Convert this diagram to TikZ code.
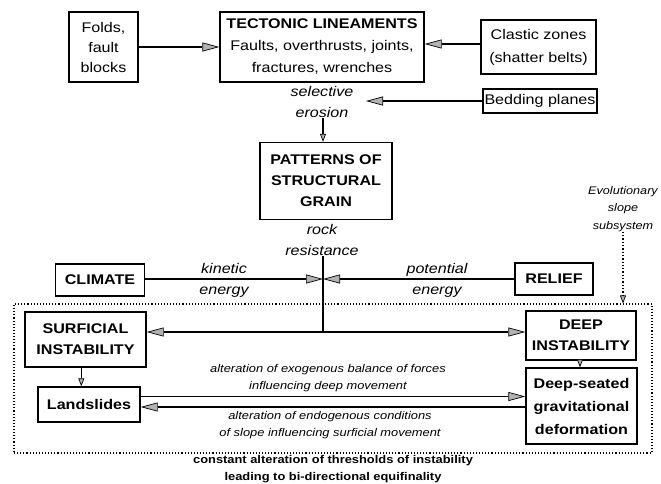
\documentclass[tikz,border=0pt]{standalone}
\usepackage{fontspec}
\setmainfont{Liberation Sans}[FakeStretch=1.15]
\usetikzlibrary{arrows.meta}
\tikzset{
  box/.style={draw, line width=1.4pt, align=center, inner sep=0pt, font=\fontsize{14}{20}\selectfont},
  bbox/.style={box, font=\fontsize{14}{21}\selectfont\bfseries},
  lbl/.style={align=center, inner sep=0pt, font=\fontsize{14}{21}\selectfont\itshape},
  slbl/.style={align=center, inner sep=0pt, font=\fontsize{11.2}{17}\selectfont\itshape},
  garr/.style={line width=1.3pt, -{Triangle[length=17pt,width=9pt,fill=gray!60,line width=0.7pt]}},
  sarr/.style={line width=1.3pt, -{Triangle[length=8pt,width=6pt,fill=gray!60,line width=0.7pt]}},
  plain/.style={line width=1.3pt}
}
\begin{document}
\begin{tikzpicture}[x=1pt,y=-1pt]
\useasboundingbox (0,0) rectangle (661,483);
% top row
\node[box, minimum width=69pt, minimum height=70pt] (folds) at (103.5,47) {Folds,\\fault\\blocks};
\node[box, minimum width=204pt, minimum height=70pt, font=\fontsize{14}{22}\selectfont] (tect) at (322,47) {\textbf{TECTONIC LINEAMENTS}\\Faults, overthrusts, joints,\\fractures, wrenches};
\node[box, minimum width=115pt, minimum height=54pt, font=\fontsize{14}{23}\selectfont] (clast) at (538.5,47) {Clastic zones\\(shatter belts)};
\node[box, minimum width=114pt, minimum height=24pt] (bed) at (540,101) {Bedding planes};
\node[lbl] (sel) at (322,102) {selective\\erosion};
\coordinate (bedtip) at (366,101);
\node[bbox, minimum width=132pt, minimum height=77pt] (pat) at (326,181) {PATTERNS OF\\STRUCTURAL\\GRAIN};
\node[lbl] (rock) at (322,240) {rock\\resistance};
% climate / relief
\node[bbox, minimum width=89pt, minimum height=32pt] (clim) at (100,280) {CLIMATE};
\node[bbox, minimum width=78pt, minimum height=32pt] (rel) at (554,279) {RELIEF};
\node[lbl] (kin) at (224,280) {kinetic\\energy};
\node[lbl] (pot) at (437,280) {potential\\energy};
\coordinate (jn) at (323,279);
\coordinate (jb) at (323,332);
% subsystem
\node[draw, dotted, line width=1.1pt, minimum width=638pt, minimum height=149pt, inner sep=0pt] (sub) at (333,378.5) {};
\node[slbl, font=\fontsize{11}{17.5}\selectfont\itshape] (evo) at (623,209) {Evolutionary\\slope\\subsystem};
\node[bbox, minimum width=121pt, minimum height=55pt] (surf) at (85.5,339.5) {SURFICIAL\\INSTABILITY};
\node[bbox, minimum width=110pt, minimum height=49pt] (deep) at (581,335.5) {DEEP\\INSTABILITY};
\node[bbox, minimum width=102pt, minimum height=35pt] (land) at (89,404.5) {Landslides};
\node[bbox, minimum width=111pt, minimum height=76pt, font=\fontsize{14}{23}\selectfont\bfseries] (ds) at (581.5,406) {Deep-seated\\gravitational\\deformation};
\node[slbl] (exo) at (328,378.5) {alteration of exogenous balance of forces\\influencing deep movement};
\node[slbl] (endo) at (330,425.5) {alteration of endogenous conditions\\of slope influencing surficial movement};
\node[align=center, inner sep=0pt, font=\fontsize{11.2}{17}\selectfont\bfseries] (foot) at (333,469) {constant alteration of thresholds of instability\\leading to bi-directional equifinality};
% connectors
\draw[garr] (folds.east) -- (tect.west);
\draw[garr] ([yshift=3pt]clast.west) -- ([yshift=3pt]clast.west -| tect.east);
\draw[garr] (bed.west) -- (bedtip);
\draw[sarr] (sel.south -| jn) -- (jn |- pat.north);
\draw[garr] (clim.east |- jn) -- (jn);
\draw[garr] (rel.west |- jn) -- (jn);
\draw[plain] (jn |- rock.south) -- (jb);
\draw[garr] (jb) -- (jb -| surf.east);
\draw[garr] (jb) -- (jb -| deep.west);
\draw[sarr] (surf.south -| land.north west) ++(44,0) coordinate (sa) -- (sa |- land.north);
\draw[sarr] (deep.south -| 580,0) -- (580,0 |- ds.north);
\draw[garr] ([yshift=8pt]land.east) -- ([yshift=8pt]land.east -| ds.west);
\draw[garr] ([yshift=-2.5pt]land.east -| ds.west) -- ([yshift=-2.5pt]land.east);
\draw[sarr, dotted, line width=1.1pt] (evo.south) -- (evo.south |- sub.north);
\end{tikzpicture}
\end{document}
